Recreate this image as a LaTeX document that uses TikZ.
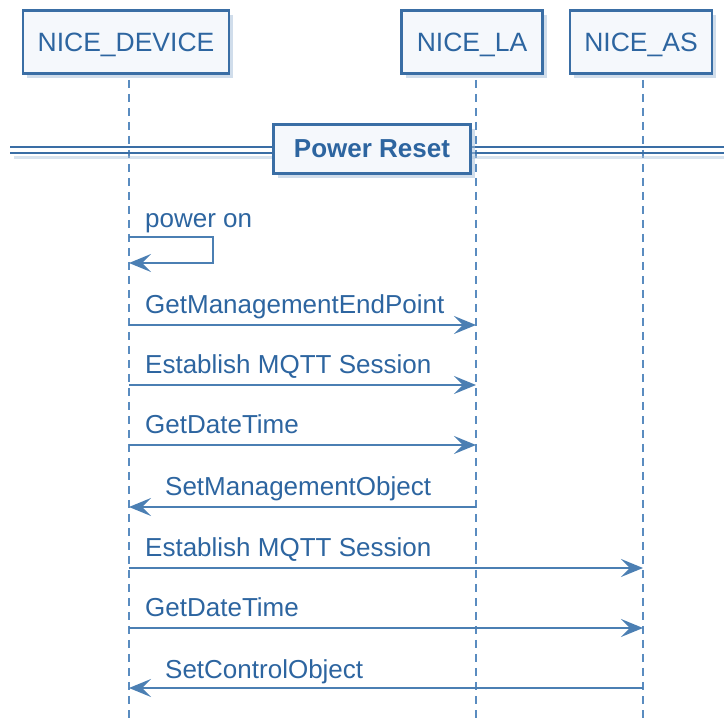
\documentclass[tikz,border=0pt]{standalone}
\usepackage{fontspec}
\setmainfont{Liberation Sans}
\usetikzlibrary{arrows.meta,shadows}
\definecolor{linec}{HTML}{4B7FB3}
\definecolor{textc}{HTML}{2D65A0}
\definecolor{borderc}{HTML}{3A6EA5}
\definecolor{fillc}{HTML}{F5F8FC}
\definecolor{shadowc}{HTML}{A9C1DA}
\definecolor{lifec}{HTML}{5A8CC0}
\tikzset{
  participant/.style={draw=borderc, line width=2.5pt, fill=fillc, text=textc,
    font=\fontsize{26.5}{30}\selectfont, inner sep=0pt, text height=19pt, text depth=0pt,
    drop shadow={shadow xshift=4pt, shadow yshift=-5pt, fill=shadowc, opacity=0.55}},
  divbox/.style={draw=borderc, line width=3pt, fill=fillc, text=textc,
    font=\fontsize{26}{30}\selectfont\bfseries, inner sep=0pt,
    drop shadow={shadow xshift=4pt, shadow yshift=-5pt, fill=shadowc, opacity=0.55}},
  lifeline/.style={draw=lifec, line width=1.6pt, dash pattern=on 8pt off 6pt},
  msg/.style={draw=linec, line width=1.8pt, -{Stealth[length=22pt, width=18pt, inset=9pt]}},
  lbl/.style={text=textc, font=\fontsize{26}{30}\selectfont, inner sep=0pt, anchor=base west},
  divline/.style={draw=borderc, line width=2pt}
}
\begin{document}
\begin{tikzpicture}[x=1pt, y=-1pt]
\useasboundingbox (0,0) rectangle (724,719);
% lifelines
\coordinate (devtop) at (129,80); \coordinate (devbot) at (129,719);
\coordinate (latop) at (476,80); \coordinate (labot) at (476,719);
\coordinate (astop) at (643,80); \coordinate (asbot) at (643,719);
\draw[lifeline] (devtop) -- (devbot);
\draw[lifeline] (latop) -- (labot);
\draw[lifeline] (astop) -- (asbot);
% participants
\node[participant, minimum width=206pt, minimum height=63pt] (dev) at (126,42) {NICE\_DEVICE};
\node[participant, minimum width=141pt, minimum height=63pt] (la) at (472,42) {NICE\_LA};
\node[participant, minimum width=142pt, minimum height=63pt] (as) at (641,42) {NICE\_AS};
% divider
\coordinate (dl1) at (10,147); \coordinate (dr1) at (724,147);
\coordinate (dl2) at (10,153); \coordinate (dr2) at (724,153);
\coordinate (dl3) at (14,158); \coordinate (dr3) at (724,158);
\draw[draw=shadowc, line width=3pt, opacity=0.45] (dl3) -- (dr3);
\draw[divline] (dl1) -- (dr1);
\draw[divline] (dl2) -- (dr2);
\node[divbox, minimum width=197pt, minimum height=49pt] (reset) at (372,149) {Power Reset};
% power on
\coordinate (p1) at (129,237); \coordinate (p2) at (213,237);
\coordinate (p3) at (213,263); \coordinate (p4) at (129,263);
\node[lbl] (tpower) at (145,228) {power on};
\draw[msg] (p1) -- (p2) -- (p3) -- (p4);
% messages
\coordinate (m1a) at (129,325); \coordinate (m1b) at (476,325);
\node[lbl] (t1) at (145,314) {GetManagementEndPoint};
\draw[msg] (m1a) -- (m1b);
\coordinate (m2a) at (129,385); \coordinate (m2b) at (476,385);
\node[lbl] (t2) at (145,374) {Establish MQTT Session};
\draw[msg] (m2a) -- (m2b);
\coordinate (m3a) at (129,445); \coordinate (m3b) at (476,445);
\node[lbl] (t3) at (145,434) {GetDateTime};
\draw[msg] (m3a) -- (m3b);
\coordinate (m4a) at (476,507); \coordinate (m4b) at (129,507);
\node[lbl] (t4) at (165,496) {SetManagementObject};
\draw[msg] (m4a) -- (m4b);
\coordinate (m5a) at (129,568); \coordinate (m5b) at (643,568);
\node[lbl] (t5) at (145,557) {Establish MQTT Session};
\draw[msg] (m5a) -- (m5b);
\coordinate (m6a) at (129,628); \coordinate (m6b) at (643,628);
\node[lbl] (t6) at (145,617) {GetDateTime};
\draw[msg] (m6a) -- (m6b);
\coordinate (m7a) at (643,688); \coordinate (m7b) at (129,688);
\node[lbl] (t7) at (165,678) {SetControlObject};
\draw[msg] (m7a) -- (m7b);
\end{tikzpicture}
\end{document}
